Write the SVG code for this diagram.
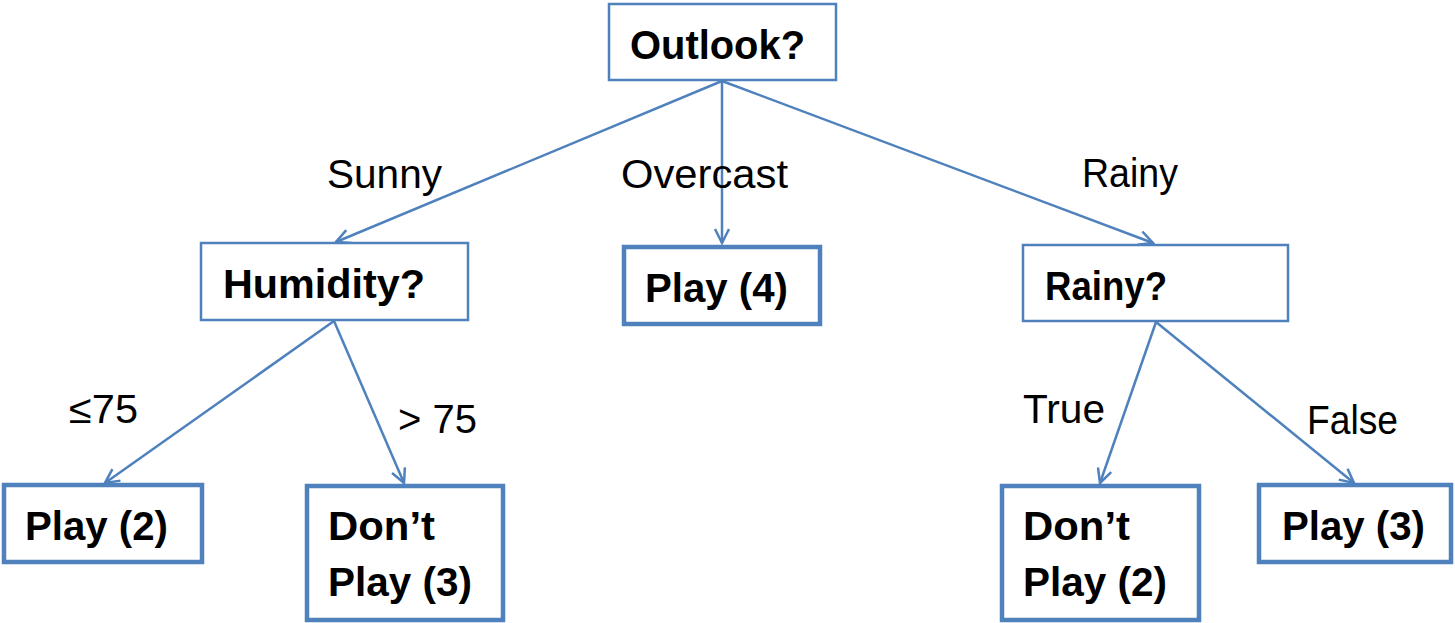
<svg xmlns="http://www.w3.org/2000/svg" width="1455" height="623" viewBox="0 0 1455 623">
  <style>
    .box { fill: #ffffff; stroke: #4F81BD; stroke-width: 2.5; }
    .leaf { fill: #ffffff; stroke: #4F81BD; stroke-width: 4.5; }
    .nt { font-family: "Liberation Sans", Arial, sans-serif; font-weight: bold; font-size: 40px; fill: #000000; }
    .lbl { font-family: "Liberation Sans", Arial, sans-serif; font-size: 40px; fill: #000000; }
    .edge { stroke: #4F81BD; stroke-width: 2.5; fill: none; }
  </style>
  <defs>
    <marker id="arr" markerUnits="userSpaceOnUse" viewBox="0 0 18 18" markerWidth="18" markerHeight="18" refX="16" refY="9" orient="auto">
      <path d="M2,2 L16,9 L2,16" fill="none" stroke="#4F81BD" stroke-width="2.5" stroke-linejoin="miter"/>
    </marker>
  </defs>
  <rect width="1455" height="623" fill="#ffffff"/>

  <g id="connectors">
    <line class="edge" x1="722" y1="81" x2="336" y2="242" marker-end="url(#arr)"/>
    <line class="edge" x1="722" y1="81" x2="722" y2="243" marker-end="url(#arr)"/>
    <line class="edge" x1="722" y1="81" x2="1153" y2="243" marker-end="url(#arr)"/>
    <line class="edge" x1="334" y1="321" x2="105" y2="483" marker-end="url(#arr)"/>
    <line class="edge" x1="334" y1="321" x2="404" y2="483" marker-end="url(#arr)"/>
    <line class="edge" x1="1156" y1="322" x2="1100" y2="483" marker-end="url(#arr)"/>
    <line class="edge" x1="1156" y1="322" x2="1354" y2="483" marker-end="url(#arr)"/>
  </g>

  <g id="edge-labels">
    <text class="lbl" x="327" y="188" textLength="115" lengthAdjust="spacingAndGlyphs">Sunny</text>
    <text class="lbl" x="621" y="188" textLength="167" lengthAdjust="spacingAndGlyphs">Overcast</text>
    <text class="lbl" x="1082" y="187" textLength="96" lengthAdjust="spacingAndGlyphs">Rainy</text>
    <text class="lbl" x="69" y="423" textLength="69" lengthAdjust="spacingAndGlyphs">≤75</text>
    <text class="lbl" x="398" y="433" textLength="79" lengthAdjust="spacingAndGlyphs">&gt; 75</text>
    <text class="lbl" x="1023" y="423" textLength="82" lengthAdjust="spacingAndGlyphs">True</text>
    <text class="lbl" x="1307" y="434" textLength="91" lengthAdjust="spacingAndGlyphs">False</text>
  </g>

  <g id="node-outlook">
    <rect class="box" x="609" y="4" width="227" height="76"/>
    <text class="nt" x="630" y="59" textLength="175" lengthAdjust="spacingAndGlyphs">Outlook?</text>
  </g>
  <g id="node-humidity">
    <rect class="box" x="201" y="243" width="267" height="77"/>
    <text class="nt" x="223" y="298" textLength="202" lengthAdjust="spacingAndGlyphs">Humidity?</text>
  </g>
  <g id="node-play4">
    <rect class="leaf" x="624" y="247" width="196" height="77"/>
    <text class="nt" x="645" y="302" textLength="143" lengthAdjust="spacingAndGlyphs">Play (4)</text>
  </g>
  <g id="node-rainy">
    <rect class="box" x="1023" y="245" width="265" height="76"/>
    <text class="nt" x="1045" y="300" textLength="122" lengthAdjust="spacingAndGlyphs">Rainy?</text>
  </g>
  <g id="node-play2">
    <rect class="leaf" x="4" y="485" width="198" height="77"/>
    <text class="nt" x="25" y="540" textLength="143" lengthAdjust="spacingAndGlyphs">Play (2)</text>
  </g>
  <g id="node-dontplay3">
    <rect class="leaf" x="307" y="486" width="196" height="134"/>
    <text class="nt" x="328" y="540" textLength="107" lengthAdjust="spacingAndGlyphs">Don’t</text>
    <text class="nt" x="328" y="596" textLength="144" lengthAdjust="spacingAndGlyphs">Play (3)</text>
  </g>
  <g id="node-dontplay2">
    <rect class="leaf" x="1002" y="486" width="197" height="134"/>
    <text class="nt" x="1023" y="540" textLength="107" lengthAdjust="spacingAndGlyphs">Don’t</text>
    <text class="nt" x="1023" y="596" textLength="144" lengthAdjust="spacingAndGlyphs">Play (2)</text>
  </g>
  <g id="node-play3">
    <rect class="leaf" x="1259" y="485" width="192" height="77"/>
    <text class="nt" x="1282" y="540" textLength="143" lengthAdjust="spacingAndGlyphs">Play (3)</text>
  </g>
</svg>
